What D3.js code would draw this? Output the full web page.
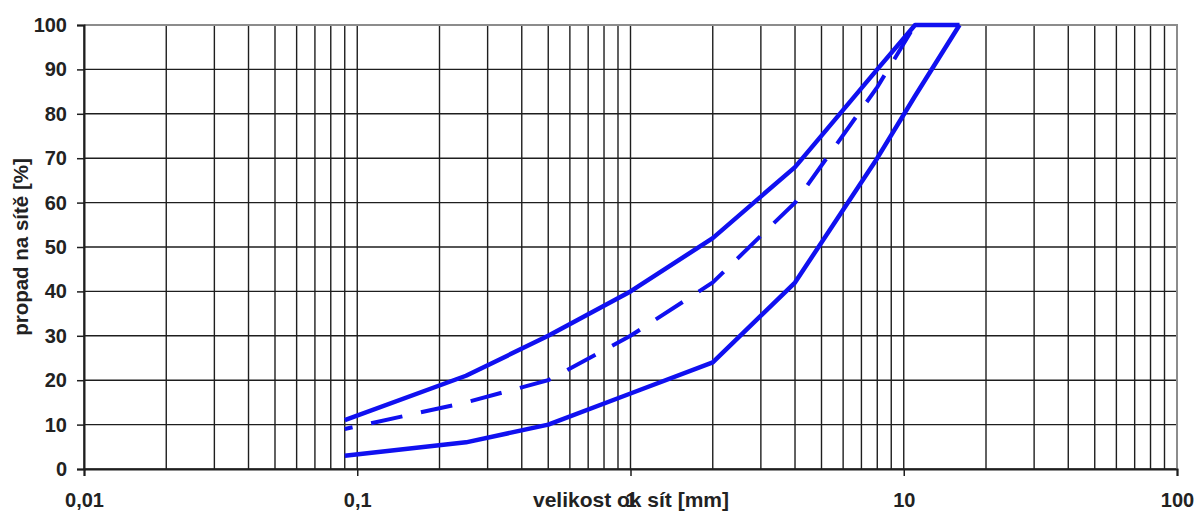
<!DOCTYPE html>
<html>
<head>
<meta charset="utf-8">
<script src="https://cdn.jsdelivr.net/npm/d3@7"></script>
<style>
  body { margin: 0; background: #fff; }
  svg { display: block; }
  text { font-family: "Liberation Sans", Arial, sans-serif; font-weight: bold; fill: #222; }
</style>
</head>
<body>
<svg class="chart"></svg>
<script>
// sieve sizes [mm] and passing percentages
var sieveSizes = [0.09, 0.25, 0.5, 1, 2, 4, 8, 11, 16];
var upperLimit = [11, 21, 30, 40, 52, 68, 90, 100, 100];
var middleCurve = [9, 15, 20, 30, 42, 60, 86, 100, null];
var lowerLimit = [3, 6, 10, 17, 24, 42, 70, 84, 100];

var xTickValues = [0.01, 0.1, 1, 10, 100];
var xTickLabels = ["0,01", "0,1", "1", "10", "100"];
var yTickValues = [0, 10, 20, 30, 40, 50, 60, 70, 80, 90, 100];

var xTitle = "velikost ok sít [mm]";
var yTitle = "propad na sítě [%]";

window.onload = function() {
  makeChart();
};

function makeChart() {
  var width = 1197, height = 513;
  var left = 84, right = 1177, top = 25, bottom = 469;
  var blue = "#1010f0";

  var svg = d3.select(".chart")
      .attr("width", width)
      .attr("height", height);

  var x = d3.scaleLog()
      .domain([0.01, 100])
      .range([left, right]);

  var y = d3.scaleLinear()
      .domain([0, 100])
      .range([bottom, top]);

  // grid
  var grid = svg.append("g");
  grid.selectAll("line.v")
      .data(x.ticks())
    .enter().append("line")
      .attr("x1", function(d) { return x(d); })
      .attr("x2", function(d) { return x(d); })
      .attr("y1", top)
      .attr("y2", bottom)
      .attr("stroke", "#1e1e1e")
      .attr("stroke-width", 1.4);

  grid.selectAll("line.h")
      .data(yTickValues)
    .enter().append("line")
      .attr("x1", left)
      .attr("x2", right)
      .attr("y1", function(d) { return y(d); })
      .attr("y2", function(d) { return y(d); })
      .attr("stroke", "#1e1e1e")
      .attr("stroke-width", 1.4);

  // top and right border, lighter
  svg.append("path")
      .attr("d", "M" + left + "," + top + "H" + right + "V" + bottom)
      .attr("fill", "none")
      .attr("stroke", "#8c8c8c")
      .attr("stroke-width", 2);

  // axes
  var yAxis = svg.append("g")
      .attr("transform", "translate(" + left + ",0)")
      .call(d3.axisLeft(y).tickValues(yTickValues).tickSize(7).tickPadding(10));

  var xAxis = svg.append("g")
      .attr("transform", "translate(0," + bottom + ")")
      .call(d3.axisBottom(x).tickValues(xTickValues).tickSize(7).tickPadding(17)
        .tickFormat(function(d, i) { return xTickLabels[i]; }));

  [xAxis, yAxis].forEach(function(a) {
    a.select(".domain").attr("stroke", "#1e1e1e").attr("stroke-width", 2);
    a.selectAll(".tick line").attr("stroke", "#1e1e1e").attr("stroke-width", 1.5);
    a.selectAll(".tick text")
      .attr("fill", "#222")
      .style("font-size", "20px")
      .style("font-family", "'Liberation Sans', Arial, sans-serif")
      .style("font-weight", "bold");
  });

  // titles (the "1" label sits under the title, as in the original)
  svg.append("text")
      .attr("x", 631)
      .attr("y", 507)
      .attr("text-anchor", "middle")
      .style("font-size", "21px")
      .text(xTitle);

  svg.append("text")
      .attr("transform", "translate(28," + (top + bottom) / 2 + ") rotate(-90)")
      .attr("text-anchor", "middle")
      .style("font-size", "20.5px")
      .text(yTitle);

  // curves
  var line = d3.line()
      .defined(function(d) { return d[1] != null; })
      .x(function(d) { return x(d[0]); })
      .y(function(d) { return y(d[1]); });

  function pairs(vals) {
    return sieveSizes.map(function(s, i) { return [s, vals[i]]; });
  }

  svg.append("path")
      .datum(pairs(upperLimit))
      .attr("d", line)
      .attr("fill", "none")
      .attr("stroke", blue)
      .attr("stroke-width", 4.5)
      .attr("stroke-linejoin", "round");

  svg.append("path")
      .datum(pairs(lowerLimit))
      .attr("d", line)
      .attr("fill", "none")
      .attr("stroke", blue)
      .attr("stroke-width", 4.5)
      .attr("stroke-linejoin", "round");

  svg.append("path")
      .datum(pairs(middleCurve))
      .attr("d", line)
      .attr("fill", "none")
      .attr("stroke", blue)
      .attr("stroke-width", 4)
      .attr("stroke-dasharray", "32,19")
      .attr("stroke-dashoffset", 24);
}
</script>
</body>
</html>
